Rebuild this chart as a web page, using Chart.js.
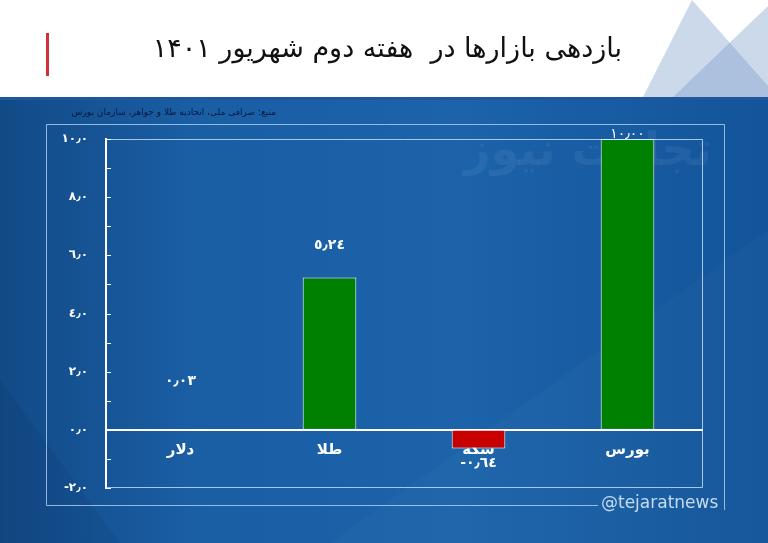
<!DOCTYPE html>
<html>
<head>
<meta charset="utf-8">
<script src="https://cdn.jsdelivr.net/npm/chart.js@4.4.0/dist/chart.umd.min.js"></script>
<style>
  html, body { margin: 0; padding: 0; background: #fff; }
  #wrap { width: 768px; height: 543px; position: relative; }
</style>
</head>
<body>
<div id="wrap"><canvas id="chart" width="768" height="543"></canvas></div>
<script>
// data
const title = 'بازدهی بازارها در  هفته دوم شهریور ۱۴۰۱';
const source = 'منبع: صرافی ملی، اتحادیه طلا و جواهر، سازمان بورس';
const categories = ['دلار', 'طلا', 'سکه', 'بورس'];
const returns = [0.03, 5.24, -0.64, 10.00];
const yMin = -2;
const yMax = 10;

// styles
const barColors = ['#008000', '#008000', '#c80000', '#008000'];
const labelOffsets = [-48, -32, 15, -5];
const FONT = '"DejaVu Sans", sans-serif';

function to_arabic(str){
  const digits = '٠١٢٣٤٥٦٧٨٩';
  return String(str).replace(/[0-9]/g, d => digits[d]).replace('.', '٫');
}

const backdrop = {
  id: 'backdrop',
  beforeDraw(chart){
    const ctx = chart.ctx;
    const w = chart.width, h = chart.height;
    ctx.save();
    ctx.fillStyle = '#ffffff';
    ctx.fillRect(0, 0, w, h);

    // triangles top right
    ctx.fillStyle = 'rgba(120,155,200,0.38)';
    ctx.beginPath();
    ctx.moveTo(692, 0); ctx.lineTo(643, 97); ctx.lineTo(768, 97); ctx.lineTo(768, 86); ctx.closePath();
    ctx.fill();
    ctx.beginPath();
    ctx.moveTo(768, 6); ctx.lineTo(673, 97); ctx.lineTo(768, 97); ctx.closePath();
    ctx.fill();

    // blue body
    const g = ctx.createLinearGradient(0, 0, w, 0);
    g.addColorStop(0, '#124a86');
    g.addColorStop(0.25, '#1a5ea4');
    g.addColorStop(0.6, '#1c63aa');
    g.addColorStop(1, '#13549a');
    ctx.fillStyle = g;
    ctx.fillRect(0, 97, w, h - 97);
    // subtle diagonal shading
    ctx.fillStyle = 'rgba(255,255,255,0.02)';
    ctx.beginPath();
    ctx.moveTo(330, 543); ctx.lineTo(768, 230); ctx.lineTo(768, 543); ctx.closePath();
    ctx.fill();
    ctx.fillStyle = 'rgba(0,20,60,0.08)';
    ctx.beginPath();
    ctx.moveTo(0, 380); ctx.lineTo(120, 543); ctx.lineTo(0, 543); ctx.closePath();
    ctx.fill();
    ctx.fillStyle = '#1f56a0';
    ctx.fillRect(0, 97, w, 3);

    // title
    ctx.fillStyle = '#d23038';
    ctx.fillRect(46, 33, 3, 43);
    ctx.fillStyle = '#111111';
    ctx.font = '27px ' + FONT;
    ctx.textAlign = 'right';
    ctx.textBaseline = 'middle';
    ctx.direction = 'rtl';
    ctx.fillText(title, 622, 50);

    // source
    ctx.fillStyle = '#08183f';
    ctx.font = '9px ' + FONT;
    ctx.fillText(source, 276, 113);
    ctx.direction = 'ltr';

    // outer frame
    ctx.strokeStyle = 'rgba(190,220,250,0.75)';
    ctx.lineWidth = 1;
    ctx.beginPath();
    ctx.moveTo(598, 505.5); ctx.lineTo(46.5, 505.5); ctx.lineTo(46.5, 124.5);
    ctx.lineTo(724.5, 124.5); ctx.lineTo(724.5, 510);
    ctx.stroke();

    ctx.fillStyle = 'rgba(215,232,250,0.9)';
    ctx.font = '17px ' + FONT;
    ctx.textAlign = 'left';
    ctx.fillText('@tejaratnews', 601, 504);

    // watermark
    ctx.fillStyle = 'rgba(255,255,255,0.06)';
    ctx.font = 'bold 46px ' + FONT;
    ctx.textAlign = 'right';
    ctx.direction = 'rtl';
    ctx.fillText('تجارت نیوز', 712, 153);
    ctx.restore();
  },
  afterDatasetsDraw(chart){
    const ctx = chart.ctx;
    const area = chart.chartArea;
    const y = chart.scales.y;
    ctx.save();
    // frame around plot area
    ctx.strokeStyle = 'rgba(200,228,255,0.8)';
    ctx.lineWidth = 1;
    ctx.beginPath();
    ctx.moveTo(area.left, area.top + 0.5); ctx.lineTo(area.right + 0.5, area.top + 0.5);
    ctx.lineTo(area.right + 0.5, area.bottom - 0.5); ctx.lineTo(area.left, area.bottom - 0.5);
    ctx.stroke();
    // y ticks
    ctx.strokeStyle = '#ffffff';
    ctx.lineWidth = 1;
    for (let v = yMin; v <= yMax; v++) {
      const py = Math.round(y.getPixelForValue(v)) + 0.5;
      ctx.beginPath();
      ctx.moveTo(area.left, py); ctx.lineTo(area.left + 5, py);
      ctx.stroke();
    }
    // value labels
    const meta = chart.getDatasetMeta(0);
    ctx.fillStyle = '#ffffff';
    ctx.textAlign = 'center';
    ctx.textBaseline = 'middle';
    meta.data.forEach((bar, i) => {
      const v = returns[i];
      ctx.font = (v >= 10 ? '' : 'bold ') + '14px ' + FONT;
      ctx.fillText(to_arabic(v.toFixed(2)), bar.x, bar.y + labelOffsets[i]);
    });
    ctx.restore();
  }
};

const ctx = document.getElementById('chart');
new Chart(ctx, {
  type: 'bar',
  data: {
    labels: categories,
    datasets: [{
      data: returns,
      backgroundColor: barColors,
      borderColor: '#ffffff',
      borderWidth: 1,
      borderSkipped: false,
      barPercentage: 0.36,
      categoryPercentage: 1.0
    }]
  },
  options: {
    responsive: false,
    animation: false,
    layout: { padding: { top: 139, right: 66, bottom: 55, left: 0 } },
    plugins: { legend: { display: false }, tooltip: { enabled: false } },
    scales: {
      x: {
        position: { y: 0 },
        grid: { display: false, drawTicks: false },
        border: { display: true, color: '#ffffff', width: 2 },
        ticks: {
          color: '#ffffff',
          padding: 11,
          font: { family: 'DejaVu Sans', size: 15, weight: 'bold' }
        }
      },
      y: {
        min: yMin,
        max: yMax,
        afterFit(scale){ scale.width = 106; },
        grid: { display: false, drawTicks: false },
        border: { display: true, color: '#ffffff', width: 2 },
        ticks: {
          stepSize: 2,
          color: '#ffffff',
          padding: 18,
          font: { family: 'DejaVu Sans', size: 12, weight: 'bold' },
          callback: v => to_arabic(Number(v).toFixed(1))
        }
      }
    }
  },
  plugins: [backdrop]
});
</script>
</body>
</html>
